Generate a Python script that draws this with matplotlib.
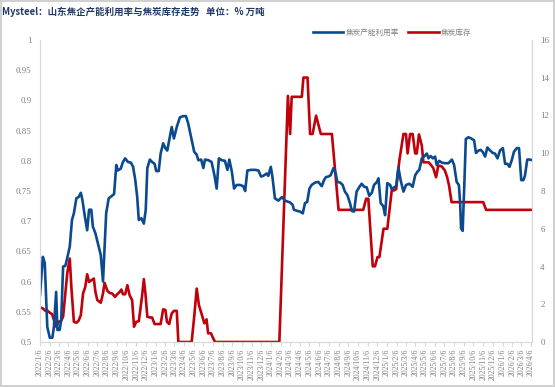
import matplotlib
matplotlib.use("Agg")
import matplotlib.pyplot as plt
import matplotlib.dates as mdates
import pandas as pd

# ── 数据（横轴为距 2022/1/6 的天数，按图读取）────────────────────
start = pd.Timestamp("2022-01-06")

util_day = [0, 9, 15, 23, 31, 39, 44, 51, 55, 62, 67, 73, 80, 86, 94, 101, 107, 115, 122, 129,
            134, 141, 149, 155, 162, 167, 175, 183, 192, 199, 209, 217, 225, 234, 241, 246, 255, 262, 269, 278,
            287, 294, 301, 307, 312, 320, 328, 334, 339, 347, 354, 362, 367, 375, 381, 389, 396, 402, 416, 423,
            432, 442, 453, 461, 468, 477, 487, 495, 500, 509, 516, 521, 532, 542, 551, 558, 565, 574, 584, 592,
            598, 606, 613, 621, 632, 642, 648, 655, 667, 679, 690, 698, 705, 716, 721, 729, 734, 742, 753, 764,
            774, 790, 798, 802, 813, 821, 830, 837, 844, 851, 858, 869, 879, 890, 897, 903, 911, 918, 927, 934,
            939, 948, 956, 963, 971, 979, 985, 992, 1000, 1009, 1016, 1024, 1032, 1040, 1048, 1055, 1064, 1069, 1076, 1084,
            1090, 1097, 1106, 1111, 1118, 1125, 1132, 1139, 1148, 1156, 1167, 1177, 1185, 1192, 1198, 1206, 1213, 1222, 1227, 1234,
            1241, 1248, 1253, 1261, 1269, 1279, 1290, 1301, 1308, 1316, 1323, 1327, 1330, 1335, 1340, 1345, 1353, 1362, 1371, 1377,
            1385, 1392, 1398, 1406, 1413, 1422, 1430, 1437, 1445, 1453, 1462, 1469, 1476, 1483, 1490, 1497, 1506, 1513, 1520, 1527,
            1532, 1539, 1548, 1554]
util_val = [0.578, 0.641, 0.631, 0.525, 0.507, 0.507, 0.525, 0.583, 0.520, 0.520, 0.536, 0.625, 0.626, 0.639, 0.658, 0.702, 0.713, 0.738, 0.740, 0.747,
            0.735, 0.710, 0.685, 0.719, 0.719, 0.691, 0.680, 0.663, 0.644, 0.600, 0.713, 0.738, 0.741, 0.745, 0.793, 0.784, 0.787, 0.798, 0.804, 0.798,
            0.797, 0.790, 0.768, 0.740, 0.702, 0.705, 0.696, 0.719, 0.788, 0.802, 0.798, 0.795, 0.783, 0.783, 0.812, 0.829, 0.821, 0.817, 0.856, 0.837,
            0.856, 0.872, 0.874, 0.874, 0.862, 0.840, 0.815, 0.810, 0.801, 0.802, 0.788, 0.802, 0.801, 0.798, 0.776, 0.754, 0.804, 0.801, 0.800, 0.785,
            0.802, 0.782, 0.754, 0.760, 0.760, 0.758, 0.750, 0.784, 0.785, 0.785, 0.784, 0.774, 0.775, 0.779, 0.775, 0.790, 0.774, 0.738, 0.734, 0.740,
            0.734, 0.731, 0.727, 0.719, 0.717, 0.716, 0.713, 0.730, 0.732, 0.754, 0.760, 0.764, 0.765, 0.758, 0.768, 0.773, 0.774, 0.776, 0.788, 0.779,
            0.765, 0.764, 0.760, 0.749, 0.743, 0.730, 0.717, 0.716, 0.749, 0.757, 0.762, 0.757, 0.756, 0.742, 0.747, 0.760, 0.765, 0.771, 0.730, 0.725,
            0.710, 0.763, 0.760, 0.753, 0.756, 0.758, 0.789, 0.768, 0.749, 0.760, 0.762, 0.757, 0.776, 0.782, 0.785, 0.804, 0.807, 0.812, 0.804, 0.808,
            0.804, 0.807, 0.793, 0.800, 0.797, 0.796, 0.796, 0.802, 0.793, 0.765, 0.760, 0.730, 0.688, 0.684, 0.757, 0.836, 0.839, 0.837, 0.834, 0.813,
            0.817, 0.818, 0.815, 0.807, 0.822, 0.817, 0.813, 0.812, 0.804, 0.817, 0.821, 0.795, 0.795, 0.790, 0.801, 0.815, 0.821, 0.821, 0.768, 0.768,
            0.776, 0.802, 0.802, 0.801]

stock_day = [0, 9, 17, 23, 31, 38, 44, 51, 59, 67, 73, 80, 86, 94, 99, 107, 115, 122, 129, 136,
             143, 149, 155, 162, 170, 175, 181, 192, 199, 204, 213, 220, 228, 237, 244, 252, 257, 262, 269, 276,
             283, 291, 297, 304, 312, 318, 322, 328, 333, 339, 347, 354, 362, 373, 381, 389, 396, 401, 408, 416,
             423, 432, 437, 479, 487, 495, 502, 510, 519, 526, 531, 540, 547, 553, 756, 783, 790, 795, 811, 827,
             832, 845, 853, 861, 872, 887, 922, 943, 1021, 1030, 1037, 1051, 1058, 1066, 1072, 1085, 1097, 1111, 1118, 1125,
             1135, 1148, 1156, 1161, 1169, 1177, 1185, 1190, 1197, 1206, 1211, 1227, 1234, 1242, 1251, 1258, 1269, 1279, 1286, 1292,
             1300, 1400, 1409, 1554]
stock_val = [1.83, 1.78, 1.65, 1.67, 1.55, 1.48, 1.16, 0.81, 1.07, 1.13, 1.34, 2.57, 3.63, 4.42, 2.92, 1.07, 1.02, 1.13, 1.43, 2.57,
             2.92, 3.59, 3.18, 3.27, 3.36, 2.66, 2.22, 2.08, 2.57, 3.13, 2.71, 2.60, 2.57, 2.39, 2.53, 2.66, 2.78, 2.53, 2.53, 3.01,
             2.48, 2.22, 0.81, 1.07, 1.10, 1.86, 2.39, 3.33, 2.57, 1.34, 1.30, 1.30, 0.95, 0.95, 0.95, 1.73, 1.70, 1.07, 0.95, 1.51,
             1.65, 1.65, 0.0, 0.0, 1.34, 2.83, 1.95, 1.51, 0.99, 1.20, 0.46, 0.46, 0.20, 0.0, 0.0, 13.04, 11.02, 12.99, 12.99, 12.99,
             14.01, 14.01, 11.02, 11.02, 11.99, 11.02, 11.02, 7.0, 7.0, 7.59, 7.59, 4.01, 4.01, 4.5, 4.5, 6.0, 6.0, 8.03, 8.03, 8.1,
             9.61, 11.02, 11.02, 9.99, 11.02, 11.02, 9.99, 9.99, 11.0, 10.4, 9.52, 9.52, 9.4, 9.22, 8.73, 9.35, 9.3, 9.08, 8.73, 8.29,
             7.41, 7.41, 7.0, 7.0]

left_ticks = [0.5, 0.55, 0.6, 0.65, 0.7, 0.75, 0.8, 0.85, 0.9, 0.95, 1]
left_labels = ["0.5", "0.55", "0.6", "0.65", "0.7", "0.75", "0.8", "0.85", "0.9", "0.95", "1"]
right_ticks = [0, 2, 4, 6, 8, 10, 12, 14, 16]

title = "Mysteel：山东焦企产能利用率与焦炭库存走势   单位：% 万吨"
util_name = "焦炭产能利用率"
stock_name = "焦炭库存"

util_dates = start + pd.to_timedelta(util_day, unit="D")
stock_dates = start + pd.to_timedelta(stock_day, unit="D")

# ── 绘图 ──────────────────────────────────────────────────────
plt.rcParams["font.family"] = ["Noto Sans CJK SC", "DejaVu Sans"]
blue = "#0B4A8F"
red = "#C0000B"
grey = "#7F7F7F"
axis_grey = "#D9D9D9"

fig = plt.figure(figsize=(5.55, 3.87), dpi=100)
fig.patch.set_edgecolor("#D0D0D0")
fig.patch.set_linewidth(1.5)
ax = fig.add_axes([40 / 555, 1 - 342 / 387, 492 / 555, 302 / 387])
ax2 = ax.twinx()

l1, = ax.plot(util_dates, util_val, color=blue, linewidth=1.9, label=util_name)
l2, = ax2.plot(stock_dates, stock_val, color=red, linewidth=1.9, label=stock_name)
ax.set_zorder(ax2.get_zorder() + 1)
ax.patch.set_visible(False)

ax.set_ylim(0.5, 1)
ax.set_yticks(left_ticks)
ax.set_yticklabels(left_labels)
ax2.set_ylim(0, 16)
ax2.set_yticks(right_ticks)

ax.set_xlim(start, start + pd.Timedelta(days=1554))
ax.xaxis.set_major_locator(mdates.MonthLocator(bymonthday=6))
ax.xaxis.set_major_formatter(
    matplotlib.ticker.FuncFormatter(lambda v, p: "{0.year}/{0.month}/{0.day}".format(mdates.num2date(v))))

for a in (ax, ax2):
    for s in a.spines.values():
        s.set_color(axis_grey)
        s.set_linewidth(0.8)
    a.spines["top"].set_visible(False)
    a.tick_params(axis="y", length=0, labelsize=6.5, labelcolor=grey, pad=6)
    for t in a.get_yticklabels():
        t.set_fontfamily("Liberation Serif")

ax.tick_params(axis="x", length=3, color=axis_grey, labelsize=5.6, labelcolor=grey, rotation=90, pad=2)
for t in ax.get_xticklabels():
    t.set_fontfamily("Liberation Serif")

fig.text(0.004, 1 - 12 / 387, title, fontsize=6.8, color="#1F3864", fontweight="bold", va="center")
fig.legend(handles=[l1, l2], loc="center", bbox_to_anchor=(392 / 555, 1 - 33 / 387), ncol=2,
           frameon=False, fontsize=5.5, labelcolor=grey, handlelength=4, columnspacing=1.2, handletextpad=0.3)

fig.savefig("out.png", dpi=100)
